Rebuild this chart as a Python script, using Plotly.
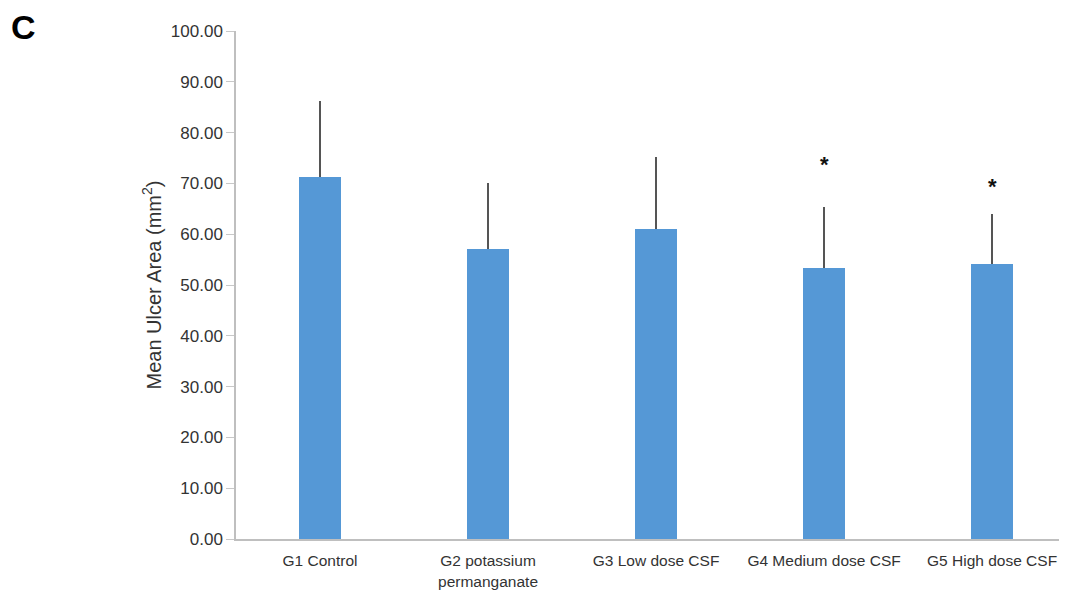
import plotly.graph_objects as go

categories = ["G1 Control", "G2 potassium<br>permanganate", "G3 Low dose CSF",
              "G4 Medium dose CSF", "G5 High dose CSF"]
means = [71.2, 57.0, 61.0, 53.3, 54.2]
errors_plus = [15.0, 13.1, 14.1, 12.0, 9.8]
sig_marks = ["", "", "", "*", "*"]
sig_y = [None, None, None, 73.8, 69.4]
y_ticks = [0, 10, 20, 30, 40, 50, 60, 70, 80, 90, 100]

# page body has an 8px margin; compensate so the figure fills the 1067x593 view
W, H = 1059, 585
L, R, T, B = 228, 0, 23, 54

fig = go.Figure()
fig.add_trace(go.Bar(
    x=categories, y=means, width=0.25,
    marker=dict(color="#5598d6", line=dict(width=0)),
    error_y=dict(type="data", symmetric=False, array=errors_plus,
                 arrayminus=[0] * len(means), color="#555555",
                 thickness=1.5, width=0),
))

for c, m, yy in zip(categories, sig_marks, sig_y):
    if m:
        fig.add_annotation(x=c, y=yy, text="<b>" + m + "</b>", showarrow=False,
                           font=dict(size=22, color="#111111", family="Liberation Sans"),
                           yanchor="middle")

fig.add_annotation(
    xref="paper", yref="paper",
    x=(23 - 8 - L) / (W - L - R), y=1 + (T - (27 - 8)) / (H - T - B),
    text="<b>C</b>", showarrow=False, xanchor="center", yanchor="middle",
    font=dict(size=34, color="#000000", family="Liberation Sans"),
)

fig.update_layout(
    width=W, height=H,
    margin=dict(l=L, r=R, t=T, b=B),
    paper_bgcolor="white", plot_bgcolor="white",
    font=dict(family="Liberation Sans, Arial, sans-serif", size=16, color="#333333"),
    showlegend=False,
    bargap=0,
)

fig.update_xaxes(
    range=[-0.5, 4.446], showline=True, linecolor="#bfbfbf", linewidth=1.5,
    showgrid=False, ticks="outside", ticklen=7, tickcolor="rgba(0,0,0,0)",
    tickfont=dict(size=15.5, color="#333333"),
)
fig.update_yaxes(
    range=[0, 100], tickvals=y_ticks, tickformat=".2f",
    showline=True, linecolor="#bfbfbf", linewidth=1.5,
    showgrid=False, zeroline=False, ticks="outside", ticklen=8, tickcolor="#c8c8c8",
    tickfont=dict(size=17, color="#333333"),
    title=dict(text="Mean Ulcer Area (mm<sup>2</sup>)", font=dict(size=20, color="#333333"),
               standoff=4),
)

fig.write_html("out.html")
